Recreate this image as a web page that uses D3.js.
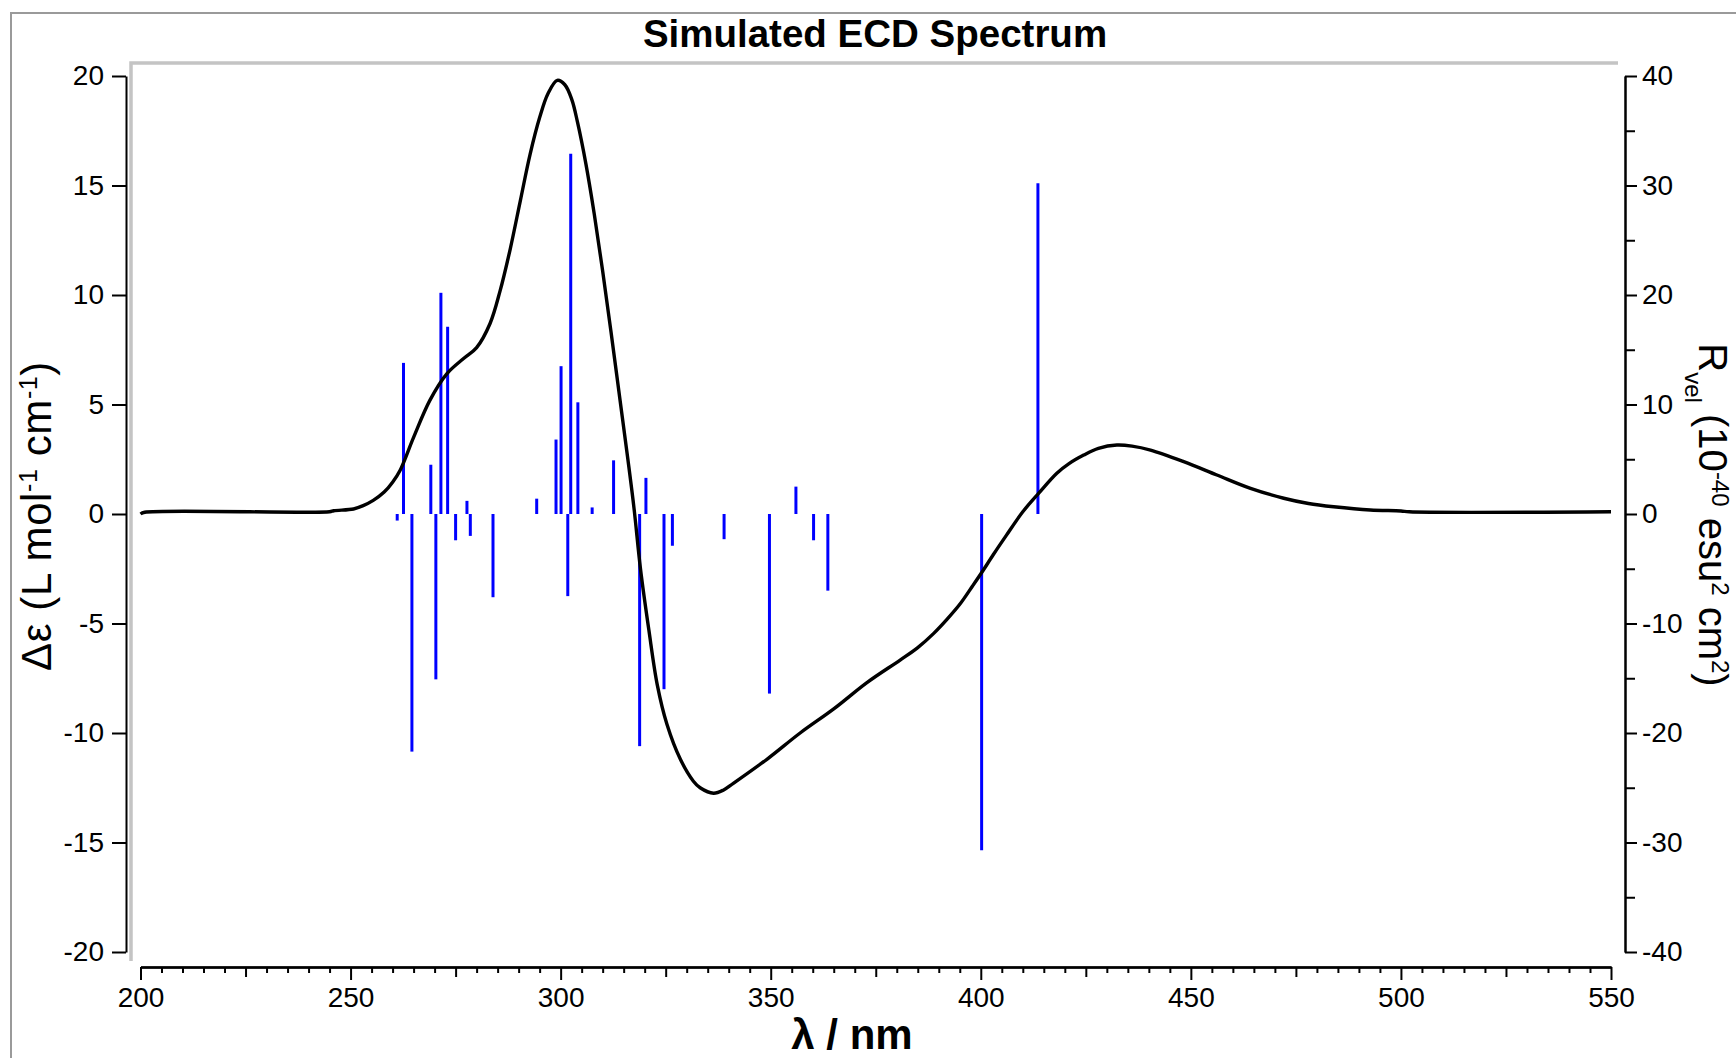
<html>
<head>
<meta charset="utf-8">
<script src="https://d3js.org/d3.v7.min.js"></script>
<style>
  body { margin: 0; background: #fff; }
  text { font-family: "Liberation Sans", Arial, Helvetica, sans-serif; fill: #000; }
</style>
</head>
<body>
<script>
// simulated ECD curve (nm, delta epsilon)
var curveNm = [200, 201, 245, 246, 250.7, 253, 255.4, 258, 260, 261.8, 265, 268.9, 272.9, 276.9, 280, 283.2, 285.6, 288, 290.4, 292.7, 295, 297, 299.2, 301, 302.7, 304, 306, 308, 310, 312, 314, 316, 317.5, 319, 321, 323, 325.3, 328.5, 331.6, 333.2, 336.4, 338.8, 341.1, 349.1, 357, 365, 372.9, 380.8, 385, 388.8, 392, 395.1, 398, 400.3, 403, 406, 410, 413.8, 418.1, 421, 424.5, 428, 432.4, 436, 440.4, 448.3, 456.2, 464.2, 472.1, 478, 484, 492.7, 500, 502, 550];
var curveDe = [0.0, 0.08, 0.1, 0.15, 0.23, 0.38, 0.62, 1.0, 1.45, 2.0, 3.5, 5.2, 6.4, 7.1, 7.6, 8.7, 10.2, 12.1, 14.3, 16.4, 18.1, 19.2, 19.8, 19.6, 18.9, 17.9, 16.0, 13.7, 11.1, 8.3, 5.4, 2.5, 0.2, -2.5, -5.3, -7.8, -9.6, -11.2, -12.2, -12.5, -12.75, -12.6, -12.3, -11.2, -10.0, -8.9, -7.7, -6.67, -6.1, -5.45, -4.8, -4.1, -3.3, -2.65, -1.85, -1.0, 0.1, 0.95, 1.86, 2.3, 2.69, 3.0, 3.15, 3.1, 2.92, 2.39, 1.78, 1.17, 0.72, 0.48, 0.33, 0.18, 0.14, 0.1, 0.1];

// rotatory strengths (nm, R_vel) for the sticks
var stickNm = [261.1, 262.6, 264.6, 269.1, 270.3, 271.5, 273.1, 275.0, 277.7, 278.5, 283.9, 294.3, 298.9, 300.1, 301.7, 302.4, 304.1, 307.5, 312.6, 318.8, 320.3, 324.6, 326.6, 338.9, 349.7, 356.0, 360.2, 363.6, 400.2, 413.6];
var stickR = [-0.6, 13.8, -21.7, 4.5, -15.1, 20.2, 17.1, -2.4, 1.2, -2.0, -7.6, 1.4, 6.8, 13.5, -7.5, 32.9, 10.2, 0.6, 4.9, -21.2, 3.3, -16.0, -2.9, -2.3, -16.4, 2.5, -2.4, -7.0, -30.7, 30.2];

// ticks
var xMajor = [200, 250, 300, 350, 400, 450, 500, 550];
var yLeftTicks = [-20, -15, -10, -5, 0, 5, 10, 15, 20];
var yRightTicks = [-40, -30, -20, -10, 0, 10, 20, 30, 40];

var w = 1736, h = 1058;
var svg = d3.select("body").append("svg").attr("width", w).attr("height", h);

var x = d3.scaleLinear().domain([200, 550]).range([140.5, 1611]);
var yL = d3.scaleLinear().domain([-20, 20]).range([952, 76]);
var yR = d3.scaleLinear().domain([-40, 40]).range([952, 76]);
var plain = function(d){ return String(d); }; // hyphen minus like the original

// outer frame (top + left only visible)
svg.append("path").attr("d", "M11,1058 L11,13 L1736,13").attr("fill", "none").attr("stroke", "#9a9a9a").attr("stroke-width", 2);
// plot frame in light gray
svg.append("path").attr("d", "M131,961 L131,63 L1618,63").attr("fill", "none").attr("stroke", "#c4c4c4").attr("stroke-width", 3.5);

// title
svg.append("text").attr("x", 875).attr("y", 47).attr("text-anchor", "middle")
  .style("font-size", "38.5px").style("font-weight", "bold").text("Simulated ECD Spectrum");

// sticks
var sticks = stickNm.map(function(d, i){ return { nm: d, r: stickR[i] }; });
svg.append("g").selectAll("line").data(sticks).enter().append("line")
  .attr("x1", function(d){ return x(d.nm); }).attr("x2", function(d){ return x(d.nm); })
  .attr("y1", yR(0)).attr("y2", function(d){ return yR(d.r); })
  .attr("stroke", "#0000ff").attr("stroke-width", 3);

// curve
var pts = curveNm.map(function(d, i){ return [d, curveDe[i]]; });
var line = d3.line().x(function(d){ return x(d[0]); }).y(function(d){ return yL(d[1]); }).curve(d3.curveCatmullRom.alpha(0.5));
svg.append("path").attr("d", line(pts)).attr("fill", "none").attr("stroke", "#000").attr("stroke-width", 3.4).attr("stroke-linejoin", "round");

function styleAxis(g, fs) {
  g.select(".domain").attr("stroke", "#000").attr("stroke-width", 2);
  g.selectAll(".tick line").attr("stroke", "#000").attr("stroke-width", 2);
  g.selectAll("text").style("font-size", fs).style("font-family", "'Liberation Sans', Arial, sans-serif");
}

// x axis: minor (5), medium (25), major (50)
var xMinorVals = d3.range(205, 550, 5).filter(function(v){ return v % 25 != 0; });
var xMidVals = [225, 275, 325, 375, 425, 475, 525];
var gx1 = svg.append("g").attr("transform", "translate(0,967)")
  .call(d3.axisBottom(x).tickValues(xMinorVals).tickSize(6).tickSizeOuter(0).tickFormat(""));
styleAxis(gx1, "0px");
var gx2 = svg.append("g").attr("transform", "translate(0,967)")
  .call(d3.axisBottom(x).tickValues(xMidVals).tickSize(10).tickSizeOuter(0).tickFormat(""));
styleAxis(gx2, "0px");
var gx = svg.append("g").attr("transform", "translate(0,967)")
  .call(d3.axisBottom(x).tickValues(xMajor).tickSize(13).tickSizeOuter(0).tickPadding(7).tickFormat(plain));
styleAxis(gx, "28px");

// left axis
var gl = svg.append("g").attr("transform", "translate(126,0)")
  .call(d3.axisLeft(yL).tickValues(yLeftTicks).tickSize(14).tickSizeOuter(0).tickPadding(8).tickFormat(plain));
styleAxis(gl, "28px");

// right axis with minor ticks
var gr1 = svg.append("g").attr("transform", "translate(1625,0)")
  .call(d3.axisRight(yR).tickValues([-35, -25, -15, -5, 5, 15, 25, 35]).tickSize(10).tickSizeOuter(0).tickFormat(""));
styleAxis(gr1, "0px");
var gr = svg.append("g").attr("transform", "translate(1625,0)")
  .call(d3.axisRight(yR).tickValues(yRightTicks).tickSize(12).tickSizeOuter(0).tickPadding(5).tickFormat(plain));
styleAxis(gr, "28px");

// axis titles
svg.append("text").attr("x", 852).attr("y", 1049).attr("text-anchor", "middle")
  .style("font-size", "42px").style("font-weight", "bold").text("λ / nm");

var lt = svg.append("text").attr("transform", "translate(51,516) rotate(-90)").attr("text-anchor", "middle")
  .style("font-size", "42px").style("letter-spacing", "0.6px");
lt.append("tspan").text("Δε (L mol");
lt.append("tspan").attr("baseline-shift", "super").style("font-size", "25px").text("-1");
lt.append("tspan").text(" cm");
lt.append("tspan").attr("baseline-shift", "super").style("font-size", "25px").text("-1");
lt.append("tspan").text(")");

var rt = svg.append("text").attr("transform", "translate(1699,515) rotate(90)").attr("text-anchor", "middle").style("font-size", "40px");
rt.append("tspan").text("R");
rt.append("tspan").attr("baseline-shift", "sub").style("font-size", "24px").text("vel");
rt.append("tspan").text(" (10");
rt.append("tspan").attr("baseline-shift", "super").style("font-size", "24px").text("-40");
rt.append("tspan").text(" esu");
rt.append("tspan").attr("baseline-shift", "super").style("font-size", "24px").text("2");
rt.append("tspan").text(" cm");
rt.append("tspan").attr("baseline-shift", "super").style("font-size", "24px").text("2");
rt.append("tspan").text(")");
</script>
</body>
</html>
